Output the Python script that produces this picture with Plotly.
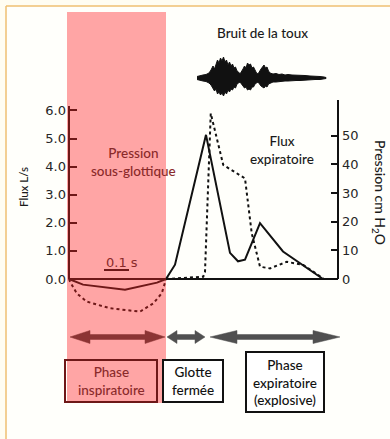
import plotly.graph_objects as go

W, H = 390, 439

# ---------------- data ----------------
# Flow (L/s) vs time (s)
flow_insp_t = [0.0, 0.056, 0.224, 0.352, 0.388]
flow_insp_v = [0.0, -0.20, -0.38, -0.13, 0.0]
flow_exp_t = [0.388, 0.424, 0.548, 0.644, 0.676, 0.704, 0.764, 0.856, 1.016]
flow_exp_v = [0.0, 0.51, 5.13, 0.93, 0.63, 0.69, 1.99, 0.98, 0.0]

# Subglottic pressure (cm H2O) vs time (s)
pres_insp_t = [0.0, 0.004, 0.031, 0.071, 0.164, 0.284, 0.337, 0.371, 0.387]
pres_insp_p = [0.0, -0.9, -5.0, -7.9, -10.2, -11.4, -8.5, -5.0, -0.4]
pres_exp_t = [0.388, 0.537, 0.544, 0.567, 0.617, 0.704, 0.731, 0.764, 0.804, 0.871, 0.937, 1.017]
pres_exp_p = [0.0, 0.8, 2.5, 57.8, 39.8, 35.1, 15.9, 4.3, 3.7, 6.0, 4.9, 0.2]

# Cough sound envelope (arbitrary units)
sound_t = [0.512, 0.524, 0.536, 0.548, 0.560, 0.568, 0.576, 0.582, 0.588, 0.594,
           0.600, 0.606, 0.612, 0.618, 0.624, 0.630, 0.636, 0.642, 0.648, 0.654,
           0.660, 0.666, 0.672, 0.678, 0.684, 0.690, 0.696, 0.702, 0.708, 0.714,
           0.720, 0.726, 0.732, 0.738, 0.744, 0.750, 0.756, 0.762, 0.768, 0.774,
           0.780, 0.786, 0.792, 0.798, 0.804, 0.816, 0.828, 0.840, 0.852, 0.864,
           0.876, 0.892, 0.908, 0.924, 0.944, 0.964, 0.984, 1.004, 1.020, 1.028]
sound_up = [1.5, 2.5, 3, 3.5, 5, 8, 12, 9, 14, 18,
            15, 20, 17, 21, 16, 18, 13, 16, 12, 14,
            10, 11, 7, 6, 4, 6, 9, 12, 10, 15,
            13, 14, 10, 11, 7, 5, 4, 7, 9, 11,
            13, 10, 11, 7, 5, 4, 4.5, 3.5, 4, 3,
            3.5, 3, 3, 2.5, 2.5, 2, 2, 1.5, 1, 0.5]
sound_lo = [1.5, 2.5, 3, 3.5, 5, 7, 10, 13, 11, 16,
            14, 17, 15, 18, 14, 16, 12, 14, 11, 12,
            9, 10, 6, 5, 4, 5, 8, 10, 9, 12,
            11, 12, 9, 9, 6, 5, 4, 6, 8, 9,
            10, 8, 9, 6, 5, 4, 4, 3.5, 3.5, 3,
            3, 3, 2.5, 2.5, 2, 2, 1.5, 1.5, 1, 0.5]

flow_ticks = [0, 1, 2, 3, 4, 5, 6]
flow_ticktext = ["0.0", "1.0", "2.0", "3.0", "4.0", "5.0", "6.0"]
pres_ticks = [0, 10, 20, 30, 40, 50]

phase_labels = ["Phase<br>inspiratoire", "Glotte<br>fermée", "Phase<br>expiratoire<br>(explosive)"]
phase_start = [0.004, 0.392, 0.564]
phase_end = [0.384, 0.544, 1.084]
insp_end = 0.388
scale_bar = [0.14, 0.24]  # 0.1 s

# ---------------- styling ----------------
RED_DARK = "#6e1818"
RED_TEXT = "#8a2a2a"
PINK = "#ffa5a5"
NARROW = "Lato, Roboto, sans-serif"
TICKF = "DejaVu Sans, Verdana, sans-serif"

# pixel -> data calibration
X0PX, PX_PER_S = 69, 250.0
Y0PX, PX_PER_FLOW, PX_PER_PRES = 279, 28.1, 2.866
SOUND_CY = 78


def px2t(px):
    return (px - X0PX) / PX_PER_S


def py2p(py):
    return 1 - py / H


fig = go.Figure()

# sound waveform
fig.add_trace(go.Scatter(
    x=sound_t + sound_t[::-1],
    y=sound_up + [-v for v in sound_lo[::-1]],
    fill="toself", fillcolor="#111", line=dict(color="#111", width=1),
    mode="lines", yaxis="y3", hoverinfo="skip", showlegend=False))

# pressure (dotted)
fig.add_trace(go.Scatter(x=pres_insp_t, y=pres_insp_p, yaxis="y2", mode="lines",
                         line=dict(color=RED_DARK, width=2, dash="dot"), showlegend=False))
fig.add_trace(go.Scatter(x=pres_exp_t, y=pres_exp_p, yaxis="y2", mode="lines",
                         line=dict(color="#111", width=2, dash="dot"), showlegend=False))
# flow (solid)
fig.add_trace(go.Scatter(x=flow_insp_t, y=flow_insp_v, yaxis="y", mode="lines",
                         line=dict(color=RED_DARK, width=2), showlegend=False))
fig.add_trace(go.Scatter(x=flow_exp_t, y=flow_exp_v, yaxis="y", mode="lines",
                         line=dict(color="#111", width=2), showlegend=False))

shapes = []
# inner background + frame
shapes.append(dict(type="rect", xref="paper", yref="paper", x0=6 / W, x1=1, y0=0, y1=py2p(6),
                   fillcolor="#fffffb", line=dict(width=0), layer="below"))
shapes.append(dict(type="line", xref="paper", yref="paper", x0=6 / W, x1=1, y0=py2p(6), y1=py2p(6),
                   line=dict(color="#efbf72", width=1.5)))
shapes.append(dict(type="line", xref="paper", yref="paper", x0=6 / W, x1=6 / W, y0=0, y1=py2p(6),
                   line=dict(color="#efbf72", width=1.5)))
# inspiratory pink band
shapes.append(dict(type="rect", xref="x", yref="paper", x0=px2t(67), x1=insp_end,
                   y0=py2p(403), y1=py2p(12), fillcolor=PINK, line=dict(width=0), layer="below"))
# axes lines
fig_top_flow = (Y0PX - 106) / PX_PER_FLOW
fig_top_pres = (Y0PX - 100) / PX_PER_PRES
x_right = px2t(338)
shapes.append(dict(type="line", xref="x", yref="y", x0=0, x1=0, y0=0, y1=fig_top_flow,
                   line=dict(color=RED_DARK, width=2)))
shapes.append(dict(type="line", xref="x", yref="y2", x0=x_right, x1=x_right, y0=0, y1=fig_top_pres,
                   line=dict(color="#111", width=2)))
shapes.append(dict(type="line", xref="x", yref="y", x0=0, x1=insp_end, y0=0, y1=0,
                   line=dict(color=RED_DARK, width=2)))
shapes.append(dict(type="line", xref="x", yref="y", x0=insp_end, x1=x_right, y0=0, y1=0,
                   line=dict(color="#111", width=2)))
# scale bar 0.1 s
shapes.append(dict(type="line", xref="x", yref="y", x0=scale_bar[0], x1=scale_bar[1],
                   y0=(Y0PX - 270) / PX_PER_FLOW, y1=(Y0PX - 270) / PX_PER_FLOW,
                   line=dict(color=RED_DARK, width=2)))


# phase arrows
def arrow(t0, t1, ycpx, head_px, color, hh=6.5, hs=2.5):
    h = head_px / PX_PER_S
    yc = py2p(ycpx)
    a, b = hh / H, hs / H
    pts = [(t0, yc), (t0 + h, yc + a), (t0 + h, yc + b), (t1 - h, yc + b), (t1 - h, yc + a),
           (t1, yc), (t1 - h, yc - a), (t1 - h, yc - b), (t0 + h, yc - b), (t0 + h, yc - a)]
    path = "M " + " L ".join(f"{x:.5f},{y:.5f}" for x, y in pts) + " Z"
    return dict(type="path", xref="x", yref="paper", path=path, fillcolor=color,
                line=dict(color=color, width=0.5))


arrow_colors = ["#8c3434", "#505050", "#505050"]
arrow_heads = [20, 10, 27]
for t0, t1, c, hd in zip(phase_start, phase_end, arrow_colors, arrow_heads):
    shapes.append(arrow(t0, t1, 337, hd, c))

# phase boxes
box_px = [(65, 157, 360, 402), (163, 223, 360, 402), (246, 324, 352, 412)]
box_fill = ["rgba(0,0,0,0)", "white", "white"]
box_line = [RED_DARK, "#111", "#111"]
box_text = [RED_TEXT, "#111", "#111"]
annotations = []
for (x0, x1, y0, y1), lab, f, lc, tc in zip(box_px, phase_labels, box_fill, box_line, box_text):
    shapes.append(dict(type="rect", xref="paper", yref="paper", x0=x0 / W, x1=x1 / W,
                       y0=py2p(y1), y1=py2p(y0), fillcolor=f, line=dict(color=lc, width=2)))
    annotations.append(dict(xref="paper", yref="paper", x=(x0 + x1) / 2 / W, y=py2p((y0 + y1) / 2),
                            text=lab, showarrow=False, xanchor="center", yanchor="middle",
                            font=dict(family=NARROW, size=13.5, color=tc, weight=500)))


def txt(text, xpx, ypx, size=13.5, color="#1a1a1a", angle=0, family=NARROW, xanchor="center",
        weight=500):
    annotations.append(dict(xref="paper", yref="paper", x=xpx / W, y=py2p(ypx), text=text,
                            showarrow=False, xanchor=xanchor, yanchor="middle", textangle=angle,
                            font=dict(family=family, size=size, color=color, weight=weight)))


txt("Bruit de la toux", 262, 33)
txt("Pression<br>sous-glottique", 133, 162, color=RED_TEXT)
txt("Flux<br>expiratoire", 282, 150)
txt("Flux L/s", 23, 187, size=11.5, angle=-90)
txt("Pression cm H<sub>2</sub>O", 380, 192, size=14, angle=90)
txt("0.1 s", 103.5, 262, size=13, color=RED_TEXT, family=TICKF, xanchor="left", weight=400)

fig.update_layout(
    width=W, height=H, margin=dict(l=0, r=0, t=0, b=0),
    paper_bgcolor="#fffdf2", plot_bgcolor="rgba(0,0,0,0)",
    showlegend=False, shapes=shapes, annotations=annotations,
    xaxis=dict(domain=[0, 1], range=[px2t(0), px2t(W)], visible=False, fixedrange=True),
    yaxis=dict(domain=[0, 1], range=[(Y0PX - H) / PX_PER_FLOW, Y0PX / PX_PER_FLOW],
               anchor="free", position=X0PX / W, side="left",
               tickvals=flow_ticks, ticktext=flow_ticktext, ticks="inside", ticklen=7,
               tickwidth=2, tickcolor=RED_DARK, showline=False, showgrid=False, zeroline=False,
               ticklabelstandoff=3,
               tickfont=dict(family=TICKF, size=13, color="#262626")),
    yaxis2=dict(domain=[0, 1], range=[(Y0PX - H) / PX_PER_PRES, Y0PX / PX_PER_PRES],
                overlaying="y", anchor="free", position=338 / W, side="right",
                tickvals=pres_ticks, ticks="inside", ticklen=7, tickwidth=2, tickcolor="#111",
                showline=False, showgrid=False, zeroline=False, ticklabelstandoff=3,
                tickfont=dict(family=TICKF, size=13, color="#262626")),
    yaxis3=dict(domain=[0, 1], range=[SOUND_CY - H, SOUND_CY], overlaying="y", visible=False),
)

fig.write_html("out.html")
